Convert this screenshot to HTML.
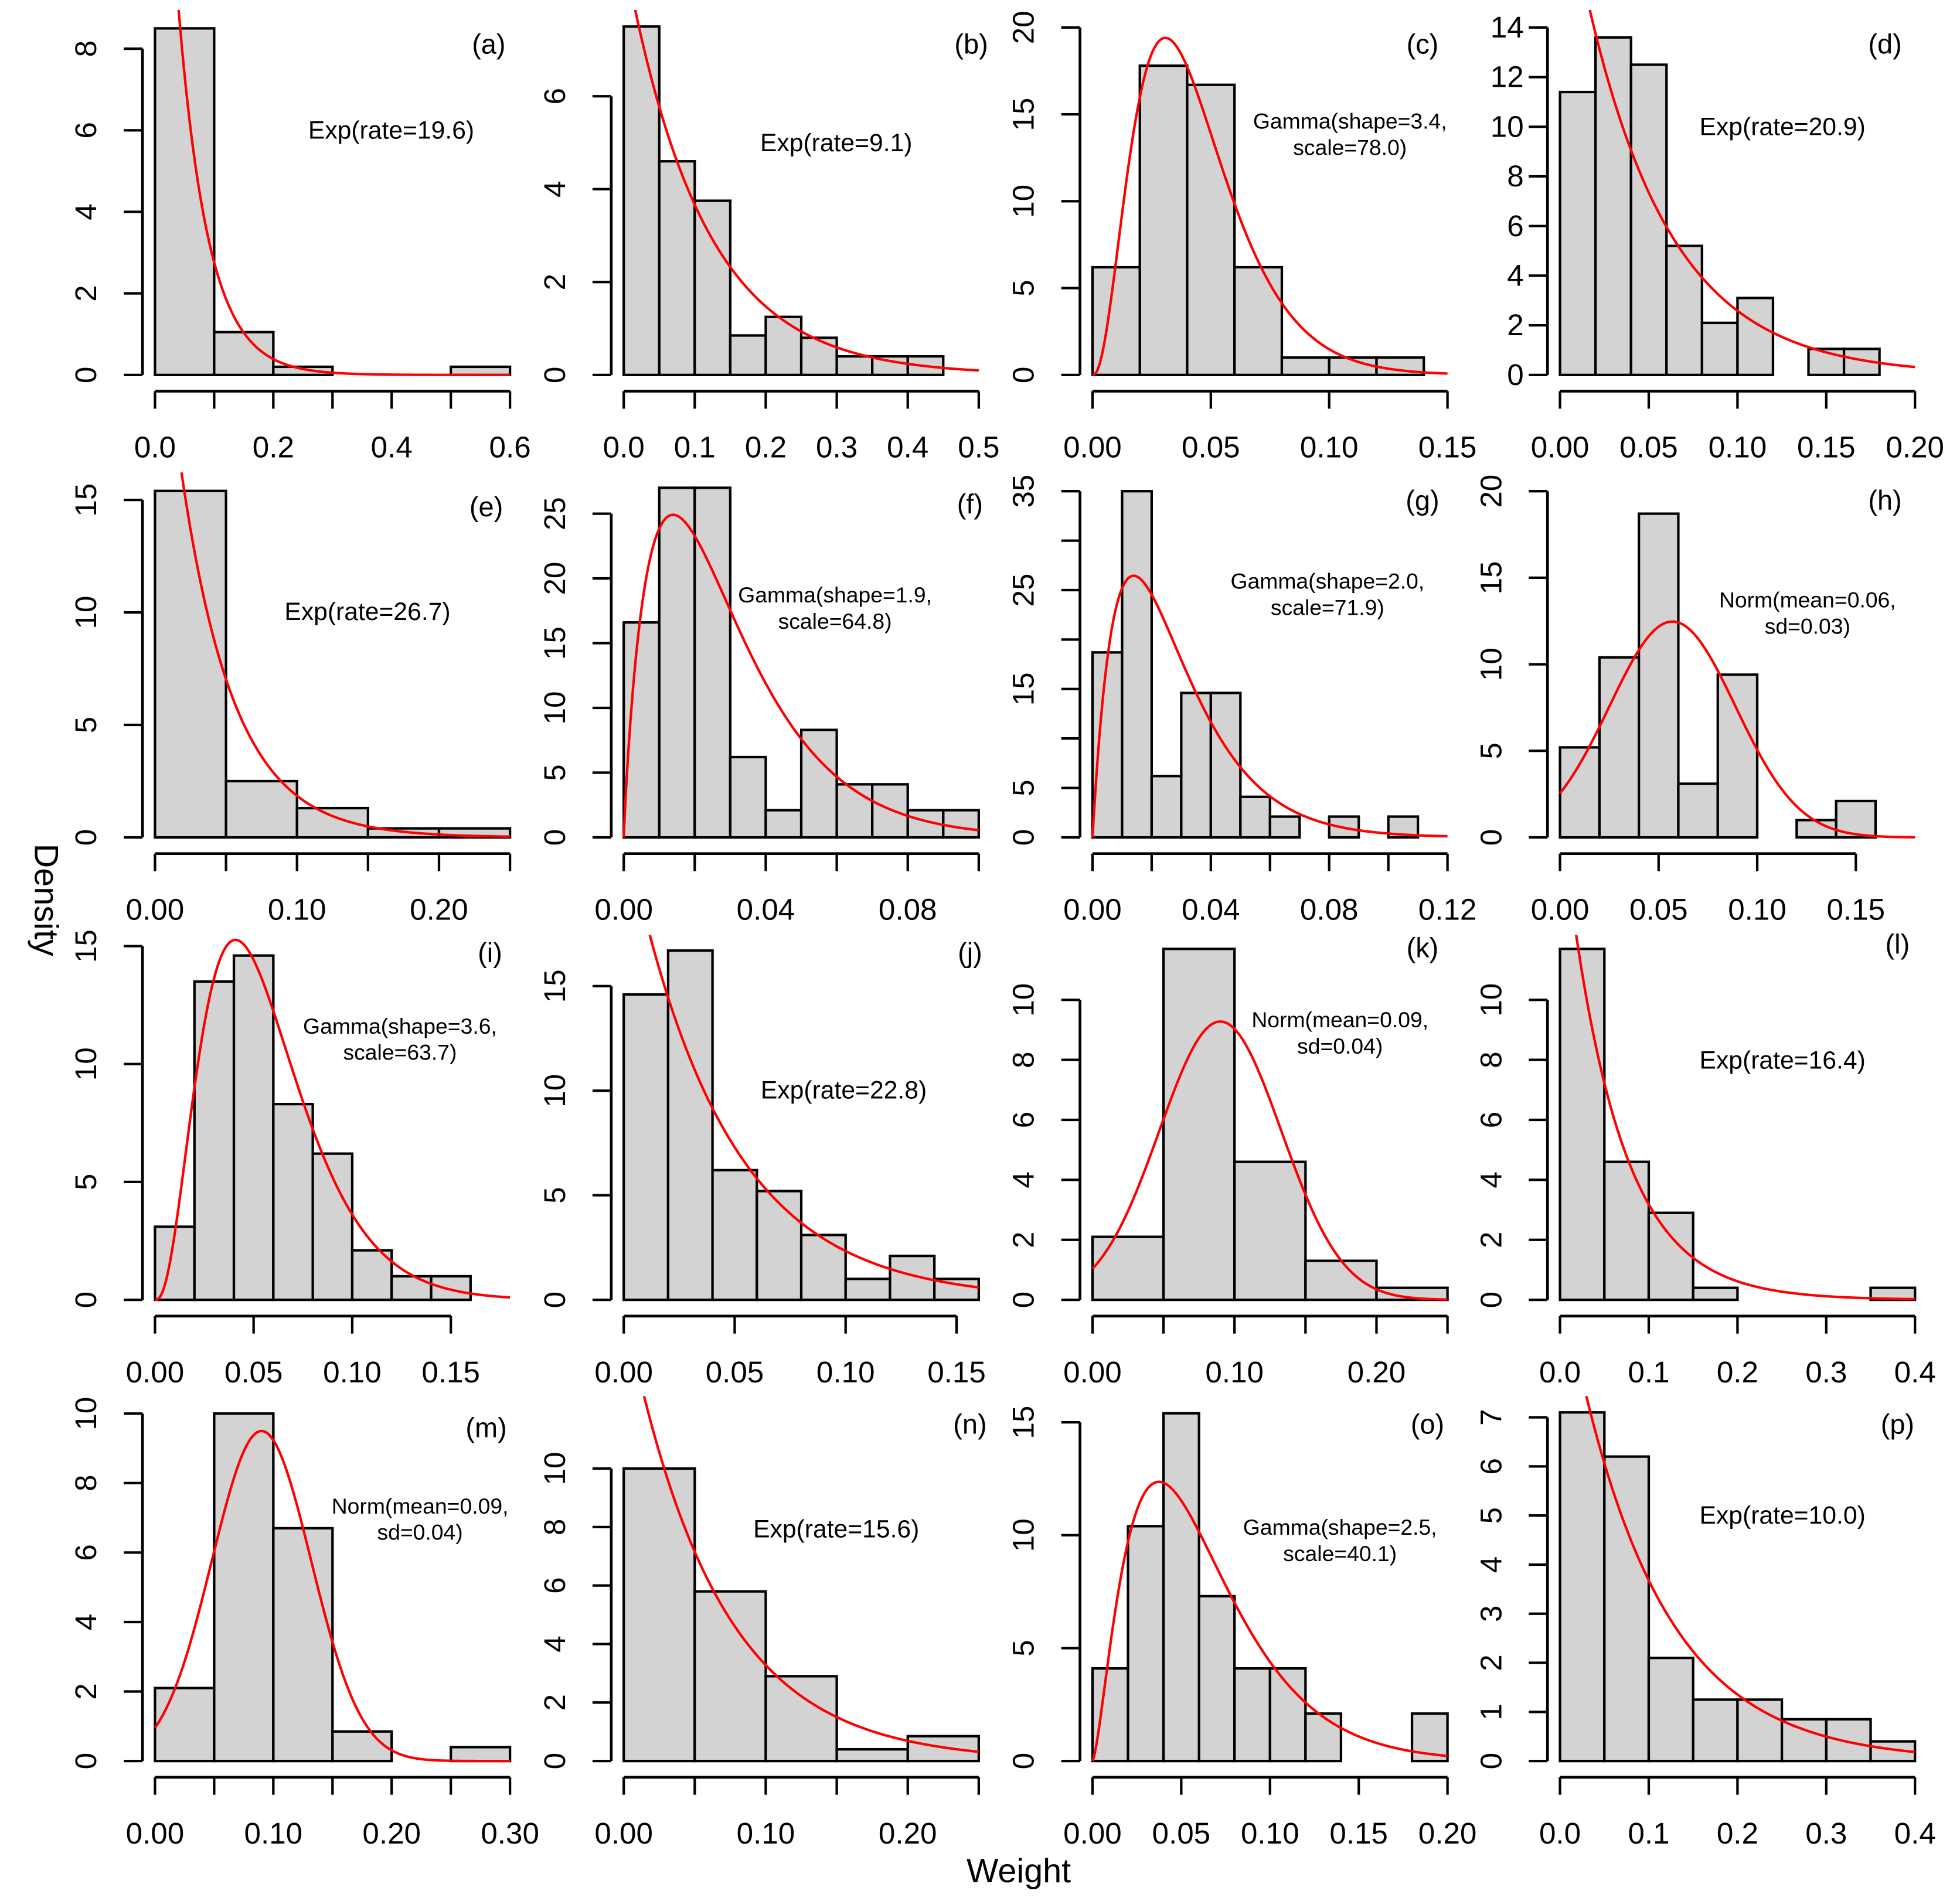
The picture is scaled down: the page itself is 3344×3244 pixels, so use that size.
<!DOCTYPE html>
<html><head><meta charset="utf-8"><style>
html,body{margin:0;padding:0;background:#fff}
svg{display:block}
text{font-family:"Liberation Sans",sans-serif;fill:#000}
</style></head><body>
<svg id="chart" width="3344" height="3244" viewBox="0 0 1568 1521" preserveAspectRatio="none" xmlns="http://www.w3.org/2000/svg">
<text x="28" y="720" font-size="27" text-anchor="middle" transform="rotate(90 28 720)">Density</text>
<text x="815" y="1506" font-size="27" text-anchor="middle">Weight</text>
</svg>
<script>
const panelLetters = ["(a)","(b)","(c)","(d)","(e)","(f)","(g)","(h)","(i)","(j)","(k)","(l)","(m)","(n)","(o)","(p)"];
const binWidths = [0.1,0.05,0.02,0.02, 0.05,0.01,0.01,0.02, 0.02,0.02,0.05,0.05, 0.05,0.05,0.02,0.05];
const binHeights = [
 [8.5,1.05,0.2,0,0,0.2],
 [7.5,4.6,3.75,0.85,1.25,0.8,0.4,0.4,0.4],
 [6.2,17.8,16.7,6.2,1.0,1.0,1.0],
 [11.4,13.6,12.5,5.2,2.1,3.1,0,1.05,1.05],
 [15.4,2.5,1.3,0.4,0.4],
 [16.6,27,27,6.2,2.1,8.3,4.1,4.1,2.1,2.1],
 [18.7,35,6.2,14.6,14.6,4.1,2.1,0,2.1,0,2.1],
 [5.2,10.4,18.7,3.1,9.4,0,1.0,2.1],
 [3.1,13.5,14.6,8.3,6.2,2.1,1.0,1.0],
 [14.6,16.7,6.2,5.2,3.1,1.0,2.1,1.0],
 [2.1,11.7,4.6,1.3,0.4],
 [11.7,4.6,2.9,0.4,0,0,0,0.4],
 [2.1,10,6.7,0.85,0,0.4],
 [10,5.8,2.9,0.4,0.85],
 [4.1,10.4,15.4,7.3,4.1,4.1,2.1,0,0,2.1],
 [7.1,6.2,2.1,1.25,1.25,0.85,0.85,0.4]
];
const curveTypes = ["exp","exp","gamma","exp","exp","gamma","gamma","norm","gamma","exp","norm","exp","norm","exp","gamma","exp"];
const curveParamA = [19.6,9.1,3.4,20.9,26.7,1.9,2.0,0.057,3.6,22.8,0.09,16.4,0.09,15.6,2.5,10.0];
const curveParamB = [0,0,78.0,0,0,64.8,71.9,0.032,63.7,0,0.043,0,0.042,0,40.1,0];
const xMaxValues = [0.6,0.5,0.15,0.2, 0.25,0.1,0.12,0.18, 0.18,0.16,0.25,0.4, 0.3,0.25,0.2,0.4];
const xTickValues = [
 [0,0.2,0.4,0.6,0.1,0.3,0.5],[0,0.1,0.2,0.3,0.4,0.5],[0,0.05,0.1,0.15],[0,0.05,0.1,0.15,0.2],
 [0,0.05,0.1,0.15,0.2,0.25],[0,0.02,0.04,0.06,0.08,0.1],[0,0.02,0.04,0.06,0.08,0.1,0.12],[0,0.05,0.1,0.15],
 [0,0.05,0.1,0.15],[0,0.05,0.1,0.15],[0,0.05,0.1,0.15,0.2,0.25],[0,0.1,0.2,0.3,0.4],
 [0,0.05,0.1,0.15,0.2,0.25,0.3],[0,0.05,0.1,0.15,0.2,0.25],[0,0.05,0.1,0.15,0.2],[0,0.1,0.2,0.3,0.4]
];
const xTickLabels = [
 ["0.0","0.2","0.4","0.6","","",""],["0.0","0.1","0.2","0.3","0.4","0.5"],["0.00","0.05","0.10","0.15"],["0.00","0.05","0.10","0.15","0.20"],
 ["0.00","","0.10","","0.20",""],["0.00","","0.04","","0.08",""],["0.00","","0.04","","0.08","","0.12"],["0.00","0.05","0.10","0.15"],
 ["0.00","0.05","0.10","0.15"],["0.00","0.05","0.10","0.15"],["0.00","","0.10","","0.20",""],["0.0","0.1","0.2","0.3","0.4"],
 ["0.00","","0.10","","0.20","","0.30"],["0.00","","0.10","","0.20",""],["0.00","0.05","0.10","0.15","0.20"],["0.0","0.1","0.2","0.3","0.4"]
];
const yTickValues = [
 [0,2,4,6,8],[0,2,4,6],[0,5,10,15,20],[0,2,4,6,8,10,12,14],
 [0,5,10,15],[0,5,10,15,20,25],[0,5,10,15,20,25,30,35],[0,5,10,15,20],
 [0,5,10,15],[0,5,10,15],[0,2,4,6,8,10],[0,2,4,6,8,10],
 [0,2,4,6,8,10],[0,2,4,6,8,10],[0,5,10,15],[0,1,2,3,4,5,6,7]
];
const yTickLabels = [
 ["0","2","4","6","8"],["0","2","4","6"],["0","5","10","15","20"],["0","2","4","6","8","10","12","14"],
 ["0","5","10","15"],["0","5","10","15","20","25"],["0","5","","15","","25","","35"],["0","5","10","15","20"],
 ["0","5","10","15"],["0","5","10","15"],["0","2","4","6","8","10"],["0","2","4","6","8","10"],
 ["0","2","4","6","8","10"],["0","2","4","6","8","10"],["0","5","10","15"],["0","1","2","3","4","5","6","7"]
];
const fitLabelLines = [
 ["Exp(rate=19.6)"],["Exp(rate=9.1)"],["Gamma(shape=3.4,","scale=78.0)"],["Exp(rate=20.9)"],
 ["Exp(rate=26.7)"],["Gamma(shape=1.9,","scale=64.8)"],["Gamma(shape=2.0,","scale=71.9)"],["Norm(mean=0.06,","sd=0.03)"],
 ["Gamma(shape=3.6,","scale=63.7)"],["Exp(rate=22.8)"],["Norm(mean=0.09,","sd=0.04)"],["Exp(rate=16.4)"],
 ["Norm(mean=0.09,","sd=0.04)"],["Exp(rate=15.6)"],["Gamma(shape=2.5,","scale=40.1)"],["Exp(rate=10.0)"]
];
// layout (pixel) values
const colLeft = [124,499,874,1248];
const plotWidth = 284;
const rowBase = [300,670,1040,1409];
const topTickPx = [39,77,22,22, 400,411,393,393, 757,789,800,800, 1131,1175,1138,1134];
const horizontalYLabels = [false,false,false,true, false,false,false,false, false,false,false,false, false,false,false,false];
const fitPos = [[313,111],[669,121],[1080,103],[1426,108],[294,496],[668,482],[1062,471],[1446,486],[320,827],[675,879],[1072,822],[1426,855],[336,1211],[669,1230],[1072,1228],[1426,1219]];
const letterPos = [[391,43],[777,43],[1138,43],[1508,43],[389,413],[776,411],[1138,408],[1508,408],[392,770],[776,770],[1138,766],[1518,763],[389,1150],[776,1147],[1142,1147],[1518,1147]];

const NS = "http://www.w3.org/2000/svg";
const svg = document.getElementById("chart");
function mk(tag, attrs, parent){const e=document.createElementNS(NS,tag);for(const k in attrs)e.setAttribute(k,attrs[k]);(parent||svg).appendChild(e);return e;}
function lgamma(z){const g=7,c=[0.99999999999980993,676.5203681218851,-1259.1392167224028,771.32342877765313,-176.61502916214059,12.507343278686905,-0.13857109526572012,9.9843695780195716e-6,1.5056327351493116e-7];z-=1;let x=c[0];for(let i=1;i<g+2;i++)x+=c[i]/(z+i);const t=z+g+0.5;return 0.5*Math.log(2*Math.PI)+(z+0.5)*Math.log(t)-t+Math.log(x);}
function dens(type,a,b,x){
 if(type==="exp")return a*Math.exp(-a*x);
 if(type==="gamma"){if(x<=0)return 0;return Math.exp(a*Math.log(b)+(a-1)*Math.log(x)-b*x-lgamma(a));}
 return Math.exp(-0.5*((x-a)/b)**2)/(b*Math.sqrt(2*Math.PI));
}
for(let p=0;p<16;p++){
 const col=p%4,row=Math.floor(p/4);
 const left=colLeft[col],base=rowBase[row];
 const xs=v=>left+v/xMaxValues[p]*plotWidth;
 const yt=yTickValues[p],topV=yt[yt.length-1];
 const ys=v=>base-v/topV*(base-topTickPx[p]);
 const g=mk("g",{});
 
 
 const cid="clip"+p;
 const cp=mk("clipPath",{id:cid},g);mk("rect",{x:left-5,y:base-292,width:plotWidth+10,height:300},cp);
 binHeights[p].forEach((h,i)=>{
  if(h<=0)return;
  const x0=xs(i*binWidths[p]),x1=xs((i+1)*binWidths[p]);
  const r=mk("rect",{x:x0,y:ys(h),width:x1-x0,height:base-ys(h),fill:"#d3d3d3",stroke:"#000","stroke-width":2},g);
  
  
 });
 let d="";const N=300;
 for(let i=0;i<=N;i++){const x=xMaxValues[p]*i/N;let y=ys(dens(curveTypes[p],curveParamA[p],curveParamB[p],x));if(y<base-300)y=base-300;d+=(i?"L":"M")+xs(x).toFixed(2)+","+y.toFixed(2);}
 const c=mk("path",{d:d,fill:"none",stroke:"#ff0000","stroke-width":2,"clip-path":"url(#"+cid+")"},g);
 
 
 const xt=xTickValues[p],xmaxT=Math.max(...xt);
 const xa=mk("g",{},g);
 
 
 const ay=base+13;
 mk("line",{x1:xs(0),x2:xs(xmaxT),y1:ay,y2:ay,stroke:"#000","stroke-width":2.2},xa);
 xt.forEach((v,i)=>{
  mk("line",{x1:xs(v),x2:xs(v),y1:ay,y2:ay+14,stroke:"#000","stroke-width":2},xa);
  if(xTickLabels[p][i]){const t=mk("text",{x:xs(v),y:base+66,"font-size":24,"text-anchor":"middle"},xa);t.textContent=xTickLabels[p][i];
   
   }
 });
 const ya=mk("g",{},g);
 
 
 const ax=left-10;
 mk("line",{x1:ax,x2:ax,y1:ys(0),y2:ys(topV),stroke:"#000","stroke-width":2.2},ya);
 yt.forEach((v,i)=>{
  mk("line",{x1:ax-15,x2:ax,y1:ys(v),y2:ys(v),stroke:"#000","stroke-width":2},ya);
  if(yTickLabels[p][i]){
   let t;
   if(horizontalYLabels[p]){
    t=mk("text",{x:left-29,y:ys(v)+8,"font-size":24,"text-anchor":"end"},ya);
   } else {
    const tx=left-47,ty=ys(v);
    t=mk("text",{x:tx,y:ty,"font-size":24,"text-anchor":"middle",transform:"rotate(-90 "+tx+" "+ty+")"},ya);
   }
   t.textContent=yTickLabels[p][i];
   
   }
 });
 const lt=mk("text",{x:letterPos[p][0],y:letterPos[p][1],"font-size":22,"text-anchor":"middle"},g);lt.textContent=panelLetters[p];
 
 
 fitLabelLines[p].forEach((s,i)=>{
  const two=fitLabelLines[p].length>1;
  const t=mk("text",{x:fitPos[p][0],y:fitPos[p][1]+i*21,"font-size":two?17.5:20,"text-anchor":"middle"},g);t.textContent=s;
  
  
 });
}
</script>
</body></html>
